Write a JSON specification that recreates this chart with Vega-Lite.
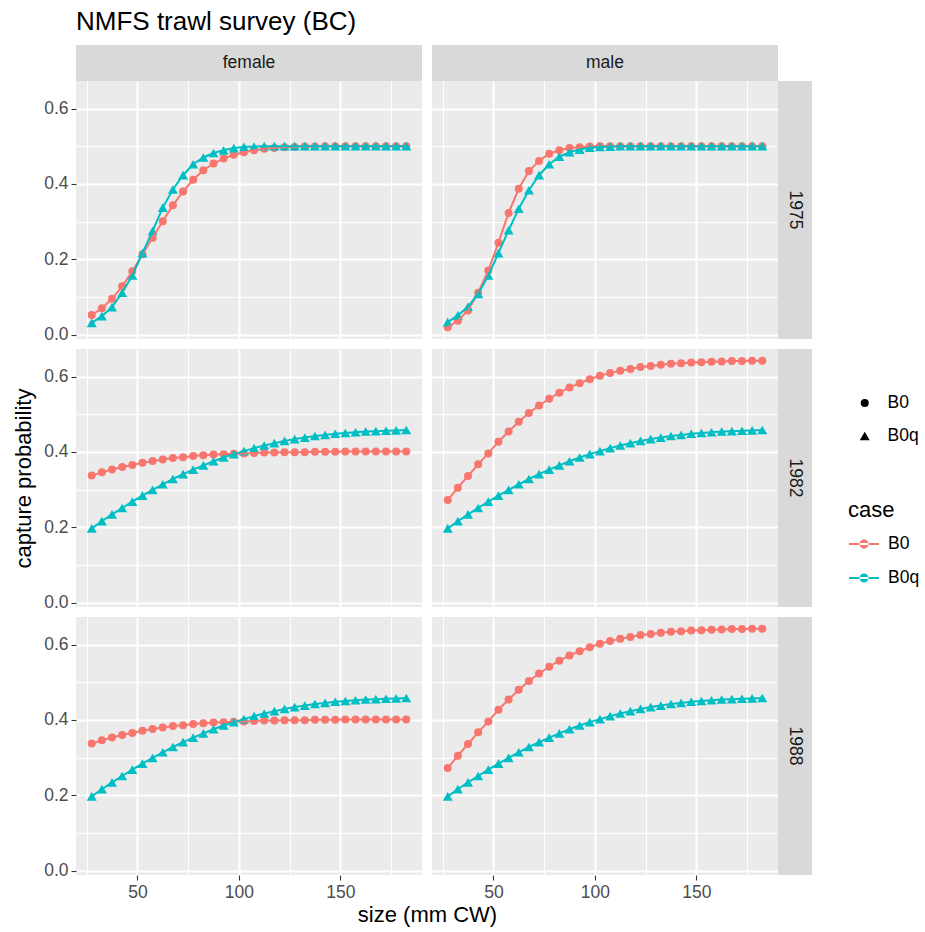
{
  "$schema": "https://vega.github.io/schema/vega-lite/v6.json",
  "padding": {"left": 12, "top": 9, "right": 5, "bottom": 5},
  "title": {"text": "NMFS trawl survey (BC)", "anchor": "start", "frame": "group", "fontSize": 26, "fontWeight": "normal", "font": "Liberation Sans", "color": "#000000", "offset": 10},
  "datasets": {
    "f1975": [
      {"case":"B0","size":27.5,"p":0.052},{"case":"B0","size":32.5,"p":0.07},{"case":"B0","size":37.5,"p":0.095},{"case":"B0","size":42.5,"p":0.128},{"case":"B0","size":47.5,"p":0.168},{"case":"B0","size":52.5,"p":0.213},{"case":"B0","size":57.5,"p":0.257},{"case":"B0","size":62.5,"p":0.301},{"case":"B0","size":67.5,"p":0.343},{"case":"B0","size":72.5,"p":0.38},{"case":"B0","size":77.5,"p":0.411},{"case":"B0","size":82.5,"p":0.436},{"case":"B0","size":87.5,"p":0.454},{"case":"B0","size":92.5,"p":0.467},{"case":"B0","size":97.5,"p":0.477},{"case":"B0","size":102.5,"p":0.484},{"case":"B0","size":107.5,"p":0.489},{"case":"B0","size":112.5,"p":0.493},{"case":"B0","size":117.5,"p":0.495},{"case":"B0","size":122.5,"p":0.497},{"case":"B0","size":127.5,"p":0.498},{"case":"B0","size":132.5,"p":0.499},{"case":"B0","size":137.5,"p":0.499},{"case":"B0","size":142.5,"p":0.5},{"case":"B0","size":147.5,"p":0.5},{"case":"B0","size":152.5,"p":0.5},{"case":"B0","size":157.5,"p":0.5},{"case":"B0","size":162.5,"p":0.5},{"case":"B0","size":167.5,"p":0.5},{"case":"B0","size":172.5,"p":0.5},{"case":"B0","size":177.5,"p":0.5},{"case":"B0","size":182.5,"p":0.5},
      {"case":"B0q","size":27.5,"p":0.031},{"case":"B0q","size":32.5,"p":0.049},{"case":"B0q","size":37.5,"p":0.073},{"case":"B0q","size":42.5,"p":0.111},{"case":"B0q","size":47.5,"p":0.157},{"case":"B0q","size":52.5,"p":0.216},{"case":"B0q","size":57.5,"p":0.275},{"case":"B0q","size":62.5,"p":0.337},{"case":"B0q","size":67.5,"p":0.385},{"case":"B0q","size":72.5,"p":0.423},{"case":"B0q","size":77.5,"p":0.452},{"case":"B0q","size":82.5,"p":0.47},{"case":"B0q","size":87.5,"p":0.482},{"case":"B0q","size":92.5,"p":0.489},{"case":"B0q","size":97.5,"p":0.495},{"case":"B0q","size":102.5,"p":0.498},{"case":"B0q","size":107.5,"p":0.499},{"case":"B0q","size":112.5,"p":0.5},{"case":"B0q","size":117.5,"p":0.5},{"case":"B0q","size":122.5,"p":0.5},{"case":"B0q","size":127.5,"p":0.5},{"case":"B0q","size":132.5,"p":0.5},{"case":"B0q","size":137.5,"p":0.5},{"case":"B0q","size":142.5,"p":0.5},{"case":"B0q","size":147.5,"p":0.5},{"case":"B0q","size":152.5,"p":0.5},{"case":"B0q","size":157.5,"p":0.5},{"case":"B0q","size":162.5,"p":0.5},{"case":"B0q","size":167.5,"p":0.5},{"case":"B0q","size":172.5,"p":0.5},{"case":"B0q","size":177.5,"p":0.5},{"case":"B0q","size":182.5,"p":0.5}
    ],
    "m1975": [
      {"case":"B0","size":27.5,"p":0.0195},{"case":"B0","size":32.5,"p":0.037},{"case":"B0","size":37.5,"p":0.064},{"case":"B0","size":42.5,"p":0.111},{"case":"B0","size":47.5,"p":0.17},{"case":"B0","size":52.5,"p":0.244},{"case":"B0","size":57.5,"p":0.323},{"case":"B0","size":62.5,"p":0.387},{"case":"B0","size":67.5,"p":0.434},{"case":"B0","size":72.5,"p":0.461},{"case":"B0","size":77.5,"p":0.48},{"case":"B0","size":82.5,"p":0.489},{"case":"B0","size":87.5,"p":0.495},{"case":"B0","size":92.5,"p":0.497},{"case":"B0","size":97.5,"p":0.499},{"case":"B0","size":102.5,"p":0.5},{"case":"B0","size":107.5,"p":0.5},{"case":"B0","size":112.5,"p":0.5},{"case":"B0","size":117.5,"p":0.5},{"case":"B0","size":122.5,"p":0.5},{"case":"B0","size":127.5,"p":0.5},{"case":"B0","size":132.5,"p":0.5},{"case":"B0","size":137.5,"p":0.5},{"case":"B0","size":142.5,"p":0.5},{"case":"B0","size":147.5,"p":0.5},{"case":"B0","size":152.5,"p":0.5},{"case":"B0","size":157.5,"p":0.5},{"case":"B0","size":162.5,"p":0.5},{"case":"B0","size":167.5,"p":0.5},{"case":"B0","size":172.5,"p":0.5},{"case":"B0","size":177.5,"p":0.5},{"case":"B0","size":182.5,"p":0.5},
      {"case":"B0q","size":27.5,"p":0.033},{"case":"B0q","size":32.5,"p":0.051},{"case":"B0q","size":37.5,"p":0.074},{"case":"B0q","size":42.5,"p":0.108},{"case":"B0q","size":47.5,"p":0.157},{"case":"B0q","size":52.5,"p":0.216},{"case":"B0q","size":57.5,"p":0.277},{"case":"B0q","size":62.5,"p":0.334},{"case":"B0q","size":67.5,"p":0.383},{"case":"B0q","size":72.5,"p":0.423},{"case":"B0q","size":77.5,"p":0.452},{"case":"B0q","size":82.5,"p":0.472},{"case":"B0q","size":87.5,"p":0.484},{"case":"B0q","size":92.5,"p":0.491},{"case":"B0q","size":97.5,"p":0.496},{"case":"B0q","size":102.5,"p":0.498},{"case":"B0q","size":107.5,"p":0.499},{"case":"B0q","size":112.5,"p":0.5},{"case":"B0q","size":117.5,"p":0.5},{"case":"B0q","size":122.5,"p":0.5},{"case":"B0q","size":127.5,"p":0.5},{"case":"B0q","size":132.5,"p":0.5},{"case":"B0q","size":137.5,"p":0.5},{"case":"B0q","size":142.5,"p":0.5},{"case":"B0q","size":147.5,"p":0.5},{"case":"B0q","size":152.5,"p":0.5},{"case":"B0q","size":157.5,"p":0.5},{"case":"B0q","size":162.5,"p":0.5},{"case":"B0q","size":167.5,"p":0.5},{"case":"B0q","size":172.5,"p":0.5},{"case":"B0q","size":177.5,"p":0.5},{"case":"B0q","size":182.5,"p":0.5}
    ],
    "f1982": [
      {"case":"B0","size":27.5,"p":0.337},{"case":"B0","size":32.5,"p":0.346},{"case":"B0","size":37.5,"p":0.353},{"case":"B0","size":42.5,"p":0.36},{"case":"B0","size":47.5,"p":0.365},{"case":"B0","size":52.5,"p":0.371},{"case":"B0","size":57.5,"p":0.376},{"case":"B0","size":62.5,"p":0.38},{"case":"B0","size":67.5,"p":0.384},{"case":"B0","size":72.5,"p":0.386},{"case":"B0","size":77.5,"p":0.389},{"case":"B0","size":82.5,"p":0.391},{"case":"B0","size":87.5,"p":0.393},{"case":"B0","size":92.5,"p":0.394},{"case":"B0","size":97.5,"p":0.395},{"case":"B0","size":102.5,"p":0.396},{"case":"B0","size":107.5,"p":0.397},{"case":"B0","size":112.5,"p":0.398},{"case":"B0","size":117.5,"p":0.398},{"case":"B0","size":122.5,"p":0.399},{"case":"B0","size":127.5,"p":0.399},{"case":"B0","size":132.5,"p":0.399},{"case":"B0","size":137.5,"p":0.4},{"case":"B0","size":142.5,"p":0.4},{"case":"B0","size":147.5,"p":0.4},{"case":"B0","size":152.5,"p":0.401},{"case":"B0","size":157.5,"p":0.401},{"case":"B0","size":162.5,"p":0.401},{"case":"B0","size":167.5,"p":0.401},{"case":"B0","size":172.5,"p":0.401},{"case":"B0","size":177.5,"p":0.401},{"case":"B0","size":182.5,"p":0.401},
      {"case":"B0q","size":27.5,"p":0.197},{"case":"B0q","size":32.5,"p":0.216},{"case":"B0q","size":37.5,"p":0.234},{"case":"B0q","size":42.5,"p":0.251},{"case":"B0q","size":47.5,"p":0.268},{"case":"B0q","size":52.5,"p":0.284},{"case":"B0q","size":57.5,"p":0.299},{"case":"B0q","size":62.5,"p":0.314},{"case":"B0q","size":67.5,"p":0.328},{"case":"B0q","size":72.5,"p":0.341},{"case":"B0q","size":77.5,"p":0.353},{"case":"B0q","size":82.5,"p":0.364},{"case":"B0q","size":87.5,"p":0.375},{"case":"B0q","size":92.5,"p":0.385},{"case":"B0q","size":97.5,"p":0.394},{"case":"B0q","size":102.5,"p":0.402},{"case":"B0q","size":107.5,"p":0.41},{"case":"B0q","size":112.5,"p":0.417},{"case":"B0q","size":117.5,"p":0.423},{"case":"B0q","size":122.5,"p":0.429},{"case":"B0q","size":127.5,"p":0.434},{"case":"B0q","size":132.5,"p":0.438},{"case":"B0q","size":137.5,"p":0.442},{"case":"B0q","size":142.5,"p":0.445},{"case":"B0q","size":147.5,"p":0.448},{"case":"B0q","size":152.5,"p":0.45},{"case":"B0q","size":157.5,"p":0.452},{"case":"B0q","size":162.5,"p":0.454},{"case":"B0q","size":167.5,"p":0.455},{"case":"B0q","size":172.5,"p":0.456},{"case":"B0q","size":177.5,"p":0.457},{"case":"B0q","size":182.5,"p":0.458}
    ],
    "m1982": [
      {"case":"B0","size":27.5,"p":0.272},{"case":"B0","size":32.5,"p":0.305},{"case":"B0","size":37.5,"p":0.336},{"case":"B0","size":42.5,"p":0.367},{"case":"B0","size":47.5,"p":0.396},{"case":"B0","size":52.5,"p":0.427},{"case":"B0","size":57.5,"p":0.454},{"case":"B0","size":62.5,"p":0.48},{"case":"B0","size":67.5,"p":0.503},{"case":"B0","size":72.5,"p":0.523},{"case":"B0","size":77.5,"p":0.541},{"case":"B0","size":82.5,"p":0.557},{"case":"B0","size":87.5,"p":0.571},{"case":"B0","size":92.5,"p":0.582},{"case":"B0","size":97.5,"p":0.593},{"case":"B0","size":102.5,"p":0.602},{"case":"B0","size":107.5,"p":0.609},{"case":"B0","size":112.5,"p":0.615},{"case":"B0","size":117.5,"p":0.62},{"case":"B0","size":122.5,"p":0.625},{"case":"B0","size":127.5,"p":0.628},{"case":"B0","size":132.5,"p":0.631},{"case":"B0","size":137.5,"p":0.634},{"case":"B0","size":142.5,"p":0.635},{"case":"B0","size":147.5,"p":0.637},{"case":"B0","size":152.5,"p":0.638},{"case":"B0","size":157.5,"p":0.639},{"case":"B0","size":162.5,"p":0.64},{"case":"B0","size":167.5,"p":0.641},{"case":"B0","size":172.5,"p":0.641},{"case":"B0","size":177.5,"p":0.642},{"case":"B0","size":182.5,"p":0.642},
      {"case":"B0q","size":27.5,"p":0.197},{"case":"B0q","size":32.5,"p":0.216},{"case":"B0q","size":37.5,"p":0.234},{"case":"B0q","size":42.5,"p":0.251},{"case":"B0q","size":47.5,"p":0.268},{"case":"B0q","size":52.5,"p":0.284},{"case":"B0q","size":57.5,"p":0.299},{"case":"B0q","size":62.5,"p":0.314},{"case":"B0q","size":67.5,"p":0.328},{"case":"B0q","size":72.5,"p":0.341},{"case":"B0q","size":77.5,"p":0.353},{"case":"B0q","size":82.5,"p":0.364},{"case":"B0q","size":87.5,"p":0.375},{"case":"B0q","size":92.5,"p":0.385},{"case":"B0q","size":97.5,"p":0.394},{"case":"B0q","size":102.5,"p":0.402},{"case":"B0q","size":107.5,"p":0.41},{"case":"B0q","size":112.5,"p":0.417},{"case":"B0q","size":117.5,"p":0.423},{"case":"B0q","size":122.5,"p":0.429},{"case":"B0q","size":127.5,"p":0.434},{"case":"B0q","size":132.5,"p":0.438},{"case":"B0q","size":137.5,"p":0.442},{"case":"B0q","size":142.5,"p":0.445},{"case":"B0q","size":147.5,"p":0.448},{"case":"B0q","size":152.5,"p":0.45},{"case":"B0q","size":157.5,"p":0.452},{"case":"B0q","size":162.5,"p":0.454},{"case":"B0q","size":167.5,"p":0.455},{"case":"B0q","size":172.5,"p":0.456},{"case":"B0q","size":177.5,"p":0.457},{"case":"B0q","size":182.5,"p":0.458}
    ],
    "f1988": [
      {"case":"B0","size":27.5,"p":0.337},{"case":"B0","size":32.5,"p":0.346},{"case":"B0","size":37.5,"p":0.353},{"case":"B0","size":42.5,"p":0.36},{"case":"B0","size":47.5,"p":0.365},{"case":"B0","size":52.5,"p":0.371},{"case":"B0","size":57.5,"p":0.376},{"case":"B0","size":62.5,"p":0.38},{"case":"B0","size":67.5,"p":0.384},{"case":"B0","size":72.5,"p":0.386},{"case":"B0","size":77.5,"p":0.389},{"case":"B0","size":82.5,"p":0.391},{"case":"B0","size":87.5,"p":0.393},{"case":"B0","size":92.5,"p":0.394},{"case":"B0","size":97.5,"p":0.395},{"case":"B0","size":102.5,"p":0.396},{"case":"B0","size":107.5,"p":0.397},{"case":"B0","size":112.5,"p":0.398},{"case":"B0","size":117.5,"p":0.398},{"case":"B0","size":122.5,"p":0.399},{"case":"B0","size":127.5,"p":0.399},{"case":"B0","size":132.5,"p":0.399},{"case":"B0","size":137.5,"p":0.4},{"case":"B0","size":142.5,"p":0.4},{"case":"B0","size":147.5,"p":0.4},{"case":"B0","size":152.5,"p":0.401},{"case":"B0","size":157.5,"p":0.401},{"case":"B0","size":162.5,"p":0.401},{"case":"B0","size":167.5,"p":0.401},{"case":"B0","size":172.5,"p":0.401},{"case":"B0","size":177.5,"p":0.401},{"case":"B0","size":182.5,"p":0.401},
      {"case":"B0q","size":27.5,"p":0.197},{"case":"B0q","size":32.5,"p":0.216},{"case":"B0q","size":37.5,"p":0.234},{"case":"B0q","size":42.5,"p":0.251},{"case":"B0q","size":47.5,"p":0.268},{"case":"B0q","size":52.5,"p":0.284},{"case":"B0q","size":57.5,"p":0.299},{"case":"B0q","size":62.5,"p":0.314},{"case":"B0q","size":67.5,"p":0.328},{"case":"B0q","size":72.5,"p":0.341},{"case":"B0q","size":77.5,"p":0.353},{"case":"B0q","size":82.5,"p":0.364},{"case":"B0q","size":87.5,"p":0.375},{"case":"B0q","size":92.5,"p":0.385},{"case":"B0q","size":97.5,"p":0.394},{"case":"B0q","size":102.5,"p":0.402},{"case":"B0q","size":107.5,"p":0.41},{"case":"B0q","size":112.5,"p":0.417},{"case":"B0q","size":117.5,"p":0.423},{"case":"B0q","size":122.5,"p":0.429},{"case":"B0q","size":127.5,"p":0.434},{"case":"B0q","size":132.5,"p":0.438},{"case":"B0q","size":137.5,"p":0.442},{"case":"B0q","size":142.5,"p":0.445},{"case":"B0q","size":147.5,"p":0.448},{"case":"B0q","size":152.5,"p":0.45},{"case":"B0q","size":157.5,"p":0.452},{"case":"B0q","size":162.5,"p":0.454},{"case":"B0q","size":167.5,"p":0.455},{"case":"B0q","size":172.5,"p":0.456},{"case":"B0q","size":177.5,"p":0.457},{"case":"B0q","size":182.5,"p":0.458}
    ],
    "m1988": [
      {"case":"B0","size":27.5,"p":0.272},{"case":"B0","size":32.5,"p":0.305},{"case":"B0","size":37.5,"p":0.336},{"case":"B0","size":42.5,"p":0.367},{"case":"B0","size":47.5,"p":0.396},{"case":"B0","size":52.5,"p":0.427},{"case":"B0","size":57.5,"p":0.454},{"case":"B0","size":62.5,"p":0.48},{"case":"B0","size":67.5,"p":0.503},{"case":"B0","size":72.5,"p":0.523},{"case":"B0","size":77.5,"p":0.541},{"case":"B0","size":82.5,"p":0.557},{"case":"B0","size":87.5,"p":0.571},{"case":"B0","size":92.5,"p":0.582},{"case":"B0","size":97.5,"p":0.593},{"case":"B0","size":102.5,"p":0.602},{"case":"B0","size":107.5,"p":0.609},{"case":"B0","size":112.5,"p":0.615},{"case":"B0","size":117.5,"p":0.62},{"case":"B0","size":122.5,"p":0.625},{"case":"B0","size":127.5,"p":0.628},{"case":"B0","size":132.5,"p":0.631},{"case":"B0","size":137.5,"p":0.634},{"case":"B0","size":142.5,"p":0.635},{"case":"B0","size":147.5,"p":0.637},{"case":"B0","size":152.5,"p":0.638},{"case":"B0","size":157.5,"p":0.639},{"case":"B0","size":162.5,"p":0.64},{"case":"B0","size":167.5,"p":0.641},{"case":"B0","size":172.5,"p":0.641},{"case":"B0","size":177.5,"p":0.642},{"case":"B0","size":182.5,"p":0.642},
      {"case":"B0q","size":27.5,"p":0.197},{"case":"B0q","size":32.5,"p":0.216},{"case":"B0q","size":37.5,"p":0.234},{"case":"B0q","size":42.5,"p":0.251},{"case":"B0q","size":47.5,"p":0.268},{"case":"B0q","size":52.5,"p":0.284},{"case":"B0q","size":57.5,"p":0.299},{"case":"B0q","size":62.5,"p":0.314},{"case":"B0q","size":67.5,"p":0.328},{"case":"B0q","size":72.5,"p":0.341},{"case":"B0q","size":77.5,"p":0.353},{"case":"B0q","size":82.5,"p":0.364},{"case":"B0q","size":87.5,"p":0.375},{"case":"B0q","size":92.5,"p":0.385},{"case":"B0q","size":97.5,"p":0.394},{"case":"B0q","size":102.5,"p":0.402},{"case":"B0q","size":107.5,"p":0.41},{"case":"B0q","size":112.5,"p":0.417},{"case":"B0q","size":117.5,"p":0.423},{"case":"B0q","size":122.5,"p":0.429},{"case":"B0q","size":127.5,"p":0.434},{"case":"B0q","size":132.5,"p":0.438},{"case":"B0q","size":137.5,"p":0.442},{"case":"B0q","size":142.5,"p":0.445},{"case":"B0q","size":147.5,"p":0.448},{"case":"B0q","size":152.5,"p":0.45},{"case":"B0q","size":157.5,"p":0.452},{"case":"B0q","size":162.5,"p":0.454},{"case":"B0q","size":167.5,"p":0.455},{"case":"B0q","size":172.5,"p":0.456},{"case":"B0q","size":177.5,"p":0.457},{"case":"B0q","size":182.5,"p":0.458}
    ]
  },
  "columns": 4,
  "align": "each",
  "bounds": "flush",
  "spacing": {"row": 0, "column": 0},
  "concat": [
    {"width": 346, "height": 36, "view": {"fill": "#D9D9D9", "stroke": null}, "data": {"values": [{"label": "female"}]}, "mark": {"type": "text", "fontSize": 17.5, "color": "#1A1A1A", "font": "Liberation Sans"}, "encoding": {"text": {"field": "label"}}},
    {"width": 10, "height": 10, "data": {"values": []}, "mark": {"type": "point", "opacity": 0}},
    {"width": 346, "height": 36, "view": {"fill": "#D9D9D9", "stroke": null}, "data": {"values": [{"label": "male"}]}, "mark": {"type": "text", "fontSize": 17.5, "color": "#1A1A1A", "font": "Liberation Sans"}, "encoding": {"text": {"field": "label"}}},
    {"width": 10, "height": 10, "data": {"values": []}, "mark": {"type": "point", "opacity": 0}},

    {"width": 346, "height": 258, "view": {"fill": "#EBEBEB", "stroke": null}, "data": {"name": "f1975"}, "resolve": {"axis": {"x": "independent", "y": "independent"}},
     "layer": [
      {"mark": {"type": "point", "filled": true, "opacity": 1}, "encoding": {
        "x": {"field": "size", "type": "quantitative", "scale": {"domain": [19.75, 190.25], "nice": false, "zero": false}, "axis": {"orient": "bottom", "values": [50, 100, 150], "grid": true, "gridWidth": 2, "labels": false, "ticks": false, "title": null}},
        "y": {"field": "p", "type": "quantitative", "scale": {"domain": [-0.0117, 0.673], "nice": false, "zero": false}, "axis": {"orient": "left", "values": [0, 0.2, 0.4, 0.6], "format": ".1f", "grid": true, "gridWidth": 2, "labels": true, "ticks": true, "title": null}},
        "color": {"field": "case", "type": "nominal", "scale": {"domain": ["B0", "B0q"], "range": ["#F8766D", "#00BFC4"]}, "legend": {"title": "case", "orient": "none", "legendX": 772, "legendY": 455, "symbolType": "M-1,-0.07H1V0.07H-1Z M-0.3,0A0.3,0.3,0,1,0,0.3,0A0.3,0.3,0,1,0,-0.3,0Z", "symbolSize": 900, "symbolStrokeWidth": 0, "symbolOpacity": 1, "symbolOffset": 1, "labelOffset": 9, "rowPadding": 2, "titlePadding": 6, "clipHeight": 32}},
        "shape": {"field": "case", "type": "nominal", "scale": {"range": ["circle", "triangle-up"]}, "legend": {"title": null, "orient": "none", "legendX": 772, "legendY": 342, "symbolFillColor": "#000000", "symbolStrokeColor": "#000000", "symbolStrokeWidth": 0, "symbolOpacity": 1, "symbolOffset": 8, "labelOffset": 14, "rowPadding": 1, "clipHeight": 32}},
        "size": {"field": "case", "type": "ordinal", "scale": {"range": [64, 100]}}}},
      {"mark": {"type": "line", "strokeWidth": 2}, "encoding": {
        "x": {"field": "size", "type": "quantitative", "scale": {"domain": [19.75, 190.25], "nice": false, "zero": false}, "axis": {"orient": "bottom", "values": [25, 75, 125, 175], "grid": true, "gridWidth": 1, "labels": false, "ticks": false, "title": null}},
        "y": {"field": "p", "type": "quantitative", "scale": {"domain": [-0.0117, 0.673], "nice": false, "zero": false}, "axis": {"orient": "left", "values": [0.1, 0.3, 0.5], "grid": true, "gridWidth": 1, "labels": false, "ticks": false, "title": null}},
        "color": {"field": "case", "type": "nominal", "scale": {"domain": ["B0", "B0q"], "range": ["#F8766D", "#00BFC4"]}}}}
     ]},
    {"width": 10, "height": 10, "data": {"values": []}, "mark": {"type": "point", "opacity": 0}},
    {"width": 346, "height": 258, "view": {"fill": "#EBEBEB", "stroke": null}, "data": {"name": "m1975"}, "resolve": {"axis": {"x": "independent", "y": "independent"}},
     "layer": [
      {"mark": {"type": "point", "filled": true, "opacity": 1}, "encoding": {
        "x": {"field": "size", "type": "quantitative", "scale": {"domain": [19.75, 190.25], "nice": false, "zero": false}, "axis": {"orient": "bottom", "values": [50, 100, 150], "grid": true, "gridWidth": 2, "labels": false, "ticks": false, "title": null}},
        "y": {"field": "p", "type": "quantitative", "scale": {"domain": [-0.0117, 0.673], "nice": false, "zero": false}, "axis": {"orient": "left", "values": [0, 0.2, 0.4, 0.6], "grid": true, "gridWidth": 2, "labels": false, "ticks": false, "title": null}},
        "color": {"field": "case", "type": "nominal", "scale": {"domain": ["B0", "B0q"], "range": ["#F8766D", "#00BFC4"]}},
        "shape": {"field": "case", "type": "nominal", "scale": {"range": ["circle", "triangle-up"]}},
        "size": {"field": "case", "type": "ordinal", "scale": {"range": [64, 100]}}}},
      {"mark": {"type": "line", "strokeWidth": 2}, "encoding": {
        "x": {"field": "size", "type": "quantitative", "scale": {"domain": [19.75, 190.25], "nice": false, "zero": false}, "axis": {"orient": "bottom", "values": [25, 75, 125, 175], "grid": true, "gridWidth": 1, "labels": false, "ticks": false, "title": null}},
        "y": {"field": "p", "type": "quantitative", "scale": {"domain": [-0.0117, 0.673], "nice": false, "zero": false}, "axis": {"orient": "left", "values": [0.1, 0.3, 0.5], "grid": true, "gridWidth": 1, "labels": false, "ticks": false, "title": null}},
        "color": {"field": "case", "type": "nominal", "scale": {"domain": ["B0", "B0q"], "range": ["#F8766D", "#00BFC4"]}}}}
     ]},
    {"width": 34, "height": 258, "view": {"fill": "#D9D9D9", "stroke": null}, "data": {"values": [{"label": "1975"}]}, "mark": {"type": "text", "fontSize": 17.5, "color": "#1A1A1A", "font": "Liberation Sans", "angle": 90}, "encoding": {"text": {"field": "label"}}},

    {"width": 10, "height": 10, "data": {"values": []}, "mark": {"type": "point", "opacity": 0}},
    {"width": 10, "height": 10, "data": {"values": []}, "mark": {"type": "point", "opacity": 0}},
    {"width": 10, "height": 10, "data": {"values": []}, "mark": {"type": "point", "opacity": 0}},
    {"width": 10, "height": 10, "data": {"values": []}, "mark": {"type": "point", "opacity": 0}},

    {"width": 346, "height": 258, "view": {"fill": "#EBEBEB", "stroke": null}, "data": {"name": "f1982"}, "resolve": {"axis": {"x": "independent", "y": "independent"}},
     "layer": [
      {"mark": {"type": "point", "filled": true, "opacity": 1}, "encoding": {
        "x": {"field": "size", "type": "quantitative", "scale": {"domain": [19.75, 190.25], "nice": false, "zero": false}, "axis": {"orient": "bottom", "values": [50, 100, 150], "grid": true, "gridWidth": 2, "labels": false, "ticks": false, "title": null}},
        "y": {"field": "p", "type": "quantitative", "scale": {"domain": [-0.0117, 0.673], "nice": false, "zero": false}, "axis": {"orient": "left", "values": [0, 0.2, 0.4, 0.6], "format": ".1f", "grid": true, "gridWidth": 2, "labels": true, "ticks": true, "title": "capture probability", "titlePadding": 8}},
        "color": {"field": "case", "type": "nominal", "scale": {"domain": ["B0", "B0q"], "range": ["#F8766D", "#00BFC4"]}},
        "shape": {"field": "case", "type": "nominal", "scale": {"range": ["circle", "triangle-up"]}},
        "size": {"field": "case", "type": "ordinal", "scale": {"range": [64, 100]}}}},
      {"mark": {"type": "line", "strokeWidth": 2}, "encoding": {
        "x": {"field": "size", "type": "quantitative", "scale": {"domain": [19.75, 190.25], "nice": false, "zero": false}, "axis": {"orient": "bottom", "values": [25, 75, 125, 175], "grid": true, "gridWidth": 1, "labels": false, "ticks": false, "title": null}},
        "y": {"field": "p", "type": "quantitative", "scale": {"domain": [-0.0117, 0.673], "nice": false, "zero": false}, "axis": {"orient": "left", "values": [0.1, 0.3, 0.5], "grid": true, "gridWidth": 1, "labels": false, "ticks": false, "title": null}},
        "color": {"field": "case", "type": "nominal", "scale": {"domain": ["B0", "B0q"], "range": ["#F8766D", "#00BFC4"]}}}}
     ]},
    {"width": 10, "height": 10, "data": {"values": []}, "mark": {"type": "point", "opacity": 0}},
    {"width": 346, "height": 258, "view": {"fill": "#EBEBEB", "stroke": null}, "data": {"name": "m1982"}, "resolve": {"axis": {"x": "independent", "y": "independent"}},
     "layer": [
      {"mark": {"type": "point", "filled": true, "opacity": 1}, "encoding": {
        "x": {"field": "size", "type": "quantitative", "scale": {"domain": [19.75, 190.25], "nice": false, "zero": false}, "axis": {"orient": "bottom", "values": [50, 100, 150], "grid": true, "gridWidth": 2, "labels": false, "ticks": false, "title": null}},
        "y": {"field": "p", "type": "quantitative", "scale": {"domain": [-0.0117, 0.673], "nice": false, "zero": false}, "axis": {"orient": "left", "values": [0, 0.2, 0.4, 0.6], "grid": true, "gridWidth": 2, "labels": false, "ticks": false, "title": null}},
        "color": {"field": "case", "type": "nominal", "scale": {"domain": ["B0", "B0q"], "range": ["#F8766D", "#00BFC4"]}},
        "shape": {"field": "case", "type": "nominal", "scale": {"range": ["circle", "triangle-up"]}},
        "size": {"field": "case", "type": "ordinal", "scale": {"range": [64, 100]}}}},
      {"mark": {"type": "line", "strokeWidth": 2}, "encoding": {
        "x": {"field": "size", "type": "quantitative", "scale": {"domain": [19.75, 190.25], "nice": false, "zero": false}, "axis": {"orient": "bottom", "values": [25, 75, 125, 175], "grid": true, "gridWidth": 1, "labels": false, "ticks": false, "title": null}},
        "y": {"field": "p", "type": "quantitative", "scale": {"domain": [-0.0117, 0.673], "nice": false, "zero": false}, "axis": {"orient": "left", "values": [0.1, 0.3, 0.5], "grid": true, "gridWidth": 1, "labels": false, "ticks": false, "title": null}},
        "color": {"field": "case", "type": "nominal", "scale": {"domain": ["B0", "B0q"], "range": ["#F8766D", "#00BFC4"]}}}}
     ]},
    {"width": 34, "height": 258, "view": {"fill": "#D9D9D9", "stroke": null}, "data": {"values": [{"label": "1982"}]}, "mark": {"type": "text", "fontSize": 17.5, "color": "#1A1A1A", "font": "Liberation Sans", "angle": 90}, "encoding": {"text": {"field": "label"}}},

    {"width": 10, "height": 10, "data": {"values": []}, "mark": {"type": "point", "opacity": 0}},
    {"width": 10, "height": 10, "data": {"values": []}, "mark": {"type": "point", "opacity": 0}},
    {"width": 10, "height": 10, "data": {"values": []}, "mark": {"type": "point", "opacity": 0}},
    {"width": 10, "height": 10, "data": {"values": []}, "mark": {"type": "point", "opacity": 0}},

    {"width": 346, "height": 258, "view": {"fill": "#EBEBEB", "stroke": null}, "data": {"name": "f1988"}, "resolve": {"axis": {"x": "independent", "y": "independent"}},
     "layer": [
      {"mark": {"type": "point", "filled": true, "opacity": 1}, "encoding": {
        "x": {"field": "size", "type": "quantitative", "scale": {"domain": [19.75, 190.25], "nice": false, "zero": false}, "axis": {"orient": "bottom", "values": [50, 100, 150], "grid": true, "gridWidth": 2, "labels": true, "ticks": true, "title": "size (mm CW)", "titleX": 351, "titleAlign": "center", "titlePadding": 4}},
        "y": {"field": "p", "type": "quantitative", "scale": {"domain": [-0.0117, 0.673], "nice": false, "zero": false}, "axis": {"orient": "left", "values": [0, 0.2, 0.4, 0.6], "format": ".1f", "grid": true, "gridWidth": 2, "labels": true, "ticks": true, "title": null}},
        "color": {"field": "case", "type": "nominal", "scale": {"domain": ["B0", "B0q"], "range": ["#F8766D", "#00BFC4"]}},
        "shape": {"field": "case", "type": "nominal", "scale": {"range": ["circle", "triangle-up"]}},
        "size": {"field": "case", "type": "ordinal", "scale": {"range": [64, 100]}}}},
      {"mark": {"type": "line", "strokeWidth": 2}, "encoding": {
        "x": {"field": "size", "type": "quantitative", "scale": {"domain": [19.75, 190.25], "nice": false, "zero": false}, "axis": {"orient": "bottom", "values": [25, 75, 125, 175], "grid": true, "gridWidth": 1, "labels": false, "ticks": false, "title": null}},
        "y": {"field": "p", "type": "quantitative", "scale": {"domain": [-0.0117, 0.673], "nice": false, "zero": false}, "axis": {"orient": "left", "values": [0.1, 0.3, 0.5], "grid": true, "gridWidth": 1, "labels": false, "ticks": false, "title": null}},
        "color": {"field": "case", "type": "nominal", "scale": {"domain": ["B0", "B0q"], "range": ["#F8766D", "#00BFC4"]}}}}
     ]},
    {"width": 10, "height": 10, "data": {"values": []}, "mark": {"type": "point", "opacity": 0}},
    {"width": 346, "height": 258, "view": {"fill": "#EBEBEB", "stroke": null}, "data": {"name": "m1988"}, "resolve": {"axis": {"x": "independent", "y": "independent"}},
     "layer": [
      {"mark": {"type": "point", "filled": true, "opacity": 1}, "encoding": {
        "x": {"field": "size", "type": "quantitative", "scale": {"domain": [19.75, 190.25], "nice": false, "zero": false}, "axis": {"orient": "bottom", "values": [50, 100, 150], "grid": true, "gridWidth": 2, "labels": true, "ticks": true, "title": null}},
        "y": {"field": "p", "type": "quantitative", "scale": {"domain": [-0.0117, 0.673], "nice": false, "zero": false}, "axis": {"orient": "left", "values": [0, 0.2, 0.4, 0.6], "grid": true, "gridWidth": 2, "labels": false, "ticks": false, "title": null}},
        "color": {"field": "case", "type": "nominal", "scale": {"domain": ["B0", "B0q"], "range": ["#F8766D", "#00BFC4"]}},
        "shape": {"field": "case", "type": "nominal", "scale": {"range": ["circle", "triangle-up"]}},
        "size": {"field": "case", "type": "ordinal", "scale": {"range": [64, 100]}}}},
      {"mark": {"type": "line", "strokeWidth": 2}, "encoding": {
        "x": {"field": "size", "type": "quantitative", "scale": {"domain": [19.75, 190.25], "nice": false, "zero": false}, "axis": {"orient": "bottom", "values": [25, 75, 125, 175], "grid": true, "gridWidth": 1, "labels": false, "ticks": false, "title": null}},
        "y": {"field": "p", "type": "quantitative", "scale": {"domain": [-0.0117, 0.673], "nice": false, "zero": false}, "axis": {"orient": "left", "values": [0.1, 0.3, 0.5], "grid": true, "gridWidth": 1, "labels": false, "ticks": false, "title": null}},
        "color": {"field": "case", "type": "nominal", "scale": {"domain": ["B0", "B0q"], "range": ["#F8766D", "#00BFC4"]}}}}
     ]},
    {"width": 34, "height": 258, "view": {"fill": "#D9D9D9", "stroke": null}, "data": {"values": [{"label": "1988"}]}, "mark": {"type": "text", "fontSize": 17.5, "color": "#1A1A1A", "font": "Liberation Sans", "angle": 90}, "encoding": {"text": {"field": "label"}}}
  ],
  "config": {
    "font": "Liberation Sans",
    "view": {"stroke": null},
    "axis": {"labelFont": "Liberation Sans", "labelFontSize": 17.5, "labelColor": "#4D4D4D", "tickColor": "#333333", "tickSize": 5, "tickWidth": 1.1, "labelPadding": 3, "domain": false, "titleFont": "Liberation Sans", "titleFontSize": 22, "titleFontWeight": "normal", "titleColor": "#000000", "gridColor": "#FFFFFF", "gridOpacity": 1},
    "legend": {"labelFont": "Liberation Sans", "labelFontSize": 17.5, "labelColor": "#000000", "titleFont": "Liberation Sans", "titleFontSize": 22, "titleFontWeight": "normal", "titleColor": "#000000"}
  }
}
